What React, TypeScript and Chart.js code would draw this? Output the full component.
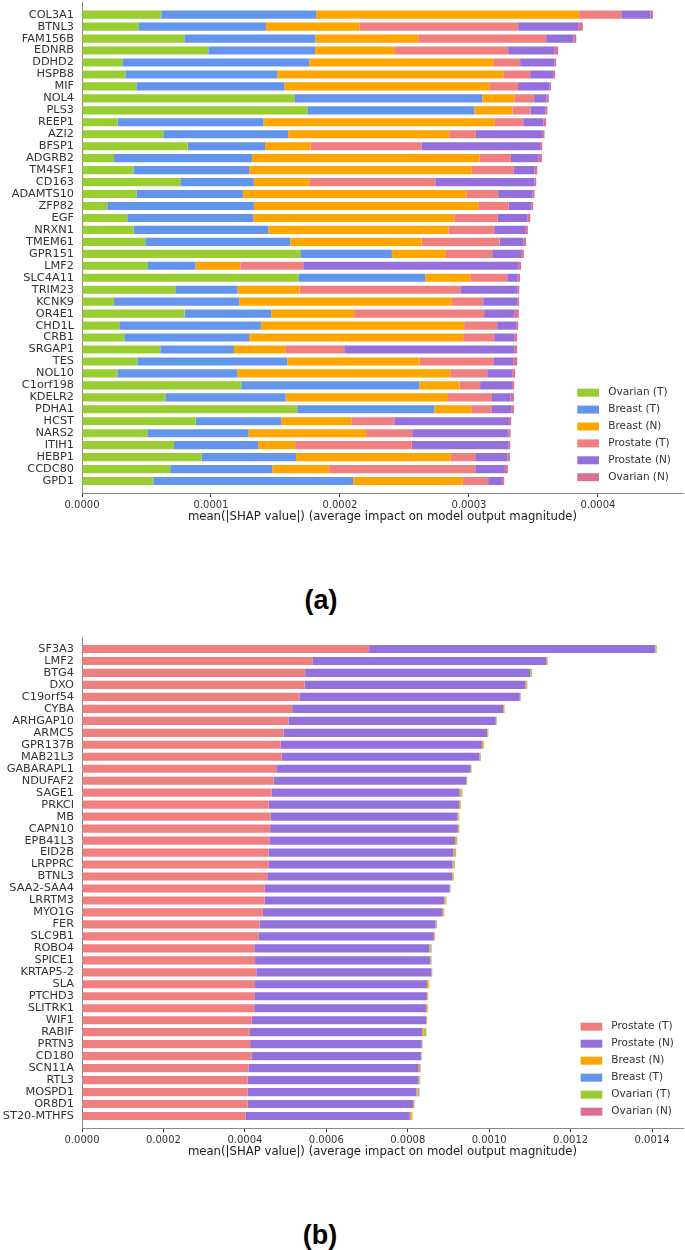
import React, { useEffect, useRef } from 'react';
import { Chart, registerables } from 'chart.js';

Chart.register(...registerables);

const FONT = '"DejaVu Sans", sans-serif';

// ---------- Panel (a) ----------
const genesA = [
  'COL3A1', 'BTNL3', 'FAM156B', 'EDNRB', 'DDHD2', 'HSPB8', 'MIF', 'NOL4', 'PLS3', 'REEP1',
  'AZI2', 'BFSP1', 'ADGRB2', 'TM4SF1', 'CD163', 'ADAMTS10', 'ZFP82', 'EGF', 'NRXN1', 'TMEM61',
  'GPR151', 'LMF2', 'SLC4A11', 'TRIM23', 'KCNK9', 'OR4E1', 'CHD1L', 'CRB1', 'SRGAP1', 'TES',
  'NOL10', 'C1orf198', 'KDELR2', 'PDHA1', 'HCST', 'NARS2', 'ITIH1', 'HEBP1', 'CCDC80', 'GPD1',
];
const ovarianT_A = [
  0.615e-4, 0.442e-4, 0.793e-4, 0.979e-4, 0.312e-4, 0.336e-4, 0.421e-4, 1.646e-4, 1.747e-4, 0.276e-4,
  0.630e-4, 0.819e-4, 0.248e-4, 0.398e-4, 0.762e-4, 0.423e-4, 0.196e-4, 0.351e-4, 0.400e-4, 0.491e-4,
  1.692e-4, 0.506e-4, 1.677e-4, 0.723e-4, 0.248e-4, 0.795e-4, 0.289e-4, 0.328e-4, 0.607e-4, 0.429e-4,
  0.274e-4, 1.235e-4, 0.646e-4, 1.669e-4, 0.881e-4, 0.506e-4, 0.713e-4, 0.927e-4, 0.684e-4, 0.553e-4,
];
const breastT_A = [
  1.200e-4, 0.984e-4, 1.016e-4, 0.829e-4, 1.450e-4, 1.178e-4, 1.147e-4, 1.457e-4, 1.295e-4, 1.132e-4,
  0.969e-4, 0.602e-4, 1.070e-4, 0.899e-4, 0.571e-4, 0.825e-4, 1.137e-4, 0.977e-4, 1.044e-4, 1.124e-4,
  0.711e-4, 0.374e-4, 0.984e-4, 0.483e-4, 0.971e-4, 0.672e-4, 1.098e-4, 0.967e-4, 0.571e-4, 1.163e-4,
  0.930e-4, 1.380e-4, 0.933e-4, 1.062e-4, 0.664e-4, 0.785e-4, 0.653e-4, 0.732e-4, 0.793e-4, 1.550e-4,
];
const breastN_A = [
  2.040e-4, 0.726e-4, 0.798e-4, 0.612e-4, 1.426e-4, 1.752e-4, 1.594e-4, 0.248e-4, 0.295e-4, 1.788e-4,
  1.248e-4, 0.351e-4, 1.764e-4, 1.726e-4, 0.429e-4, 1.731e-4, 1.739e-4, 1.558e-4, 1.398e-4, 1.018e-4,
  0.413e-4, 0.347e-4, 0.349e-4, 0.481e-4, 1.649e-4, 0.643e-4, 1.576e-4, 1.661e-4, 0.398e-4, 1.026e-4,
  1.651e-4, 0.312e-4, 1.259e-4, 0.287e-4, 0.543e-4, 0.912e-4, 0.287e-4, 1.196e-4, 0.440e-4, 0.850e-4,
];
const prostateT_A = [
  0.326e-4, 1.230e-4, 0.992e-4, 0.884e-4, 0.209e-4, 0.209e-4, 0.219e-4, 0.155e-4, 0.140e-4, 0.225e-4,
  0.207e-4, 0.860e-4, 0.243e-4, 0.326e-4, 0.977e-4, 0.248e-4, 0.235e-4, 0.336e-4, 0.354e-4, 0.605e-4,
  0.364e-4, 0.488e-4, 0.287e-4, 1.246e-4, 0.243e-4, 1.008e-4, 0.256e-4, 0.240e-4, 0.457e-4, 0.571e-4,
  0.287e-4, 0.160e-4, 0.341e-4, 0.160e-4, 0.333e-4, 0.357e-4, 0.902e-4, 0.194e-4, 1.132e-4, 0.196e-4,
];
const prostateN_A = [
  0.225e-4, 0.465e-4, 0.212e-4, 0.357e-4, 0.266e-4, 0.178e-4, 0.243e-4, 0.095e-4, 0.116e-4, 0.157e-4,
  0.514e-4, 0.920e-4, 0.212e-4, 0.160e-4, 0.770e-4, 0.266e-4, 0.178e-4, 0.233e-4, 0.240e-4, 0.184e-4,
  0.225e-4, 1.667e-4, 0.078e-4, 0.442e-4, 0.266e-4, 0.233e-4, 0.147e-4, 0.155e-4, 1.318e-4, 0.155e-4,
  0.194e-4, 0.248e-4, 0.142e-4, 0.150e-4, 0.889e-4, 0.747e-4, 0.750e-4, 0.248e-4, 0.230e-4, 0.109e-4,
];
const ovarianN_A = [
  0.021e-4, 0.036e-4, 0.021e-4, 0.031e-4, 0.013e-4, 0.016e-4, 0.013e-4, 0.019e-4, 0.016e-4, 0.021e-4,
  0.018e-4, 0.016e-4, 0.029e-4, 0.021e-4, 0.013e-4, 0.016e-4, 0.013e-4, 0.021e-4, 0.021e-4, 0.021e-4,
  0.021e-4, 0.023e-4, 0.021e-4, 0.016e-4, 0.013e-4, 0.036e-4, 0.016e-4, 0.023e-4, 0.023e-4, 0.031e-4,
  0.023e-4, 0.016e-4, 0.029e-4, 0.021e-4, 0.018e-4, 0.016e-4, 0.016e-4, 0.021e-4, 0.023e-4, 0.016e-4,
];

// ---------- Panel (b) ----------
const genesB = [
  'SF3A3', 'LMF2', 'BTG4', 'DXO', 'C19orf54', 'CYBA', 'ARHGAP10', 'ARMC5', 'GPR137B', 'MAB21L3',
  'GABARAPL1', 'NDUFAF2', 'SAGE1', 'PRKCI', 'MB', 'CAPN10', 'EPB41L3', 'EID2B', 'LRPPRC', 'BTNL3',
  'SAA2-SAA4', 'LRRTM3', 'MYO1G', 'FER', 'SLC9B1', 'ROBO4', 'SPICE1', 'KRTAP5-2', 'SLA', 'PTCHD3',
  'SLITRK1', 'WIF1', 'RABIF', 'PRTN3', 'CD180', 'SCN11A', 'RTL3', 'MOSPD1', 'OR8D1', 'ST20-MTHFS',
];
const prostateT_B = [
  7.05e-4, 5.67e-4, 5.48e-4, 5.47e-4, 5.34e-4, 5.16e-4, 5.07e-4, 4.95e-4, 4.88e-4, 4.90e-4,
  4.77e-4, 4.71e-4, 4.66e-4, 4.58e-4, 4.63e-4, 4.62e-4, 4.60e-4, 4.58e-4, 4.58e-4, 4.55e-4,
  4.49e-4, 4.48e-4, 4.44e-4, 4.36e-4, 4.33e-4, 4.23e-4, 4.25e-4, 4.28e-4, 4.25e-4, 4.23e-4,
  4.23e-4, 4.17e-4, 4.11e-4, 4.13e-4, 4.16e-4, 4.09e-4, 4.07e-4, 4.07e-4, 4.07e-4, 4.02e-4,
];
const prostateN_B = [
  7.02e-4, 5.74e-4, 5.53e-4, 5.42e-4, 5.41e-4, 5.18e-4, 5.09e-4, 5.00e-4, 4.94e-4, 4.86e-4,
  4.77e-4, 4.73e-4, 4.61e-4, 4.68e-4, 4.59e-4, 4.61e-4, 4.56e-4, 4.54e-4, 4.52e-4, 4.54e-4,
  4.54e-4, 4.42e-4, 4.41e-4, 4.32e-4, 4.31e-4, 4.30e-4, 4.30e-4, 4.30e-4, 4.22e-4, 4.24e-4,
  4.22e-4, 4.28e-4, 4.24e-4, 4.21e-4, 4.16e-4, 4.18e-4, 4.19e-4, 4.14e-4, 4.06e-4, 4.03e-4,
];
const breastN_B = [
  0.010e-4, 0.020e-4, 0.015e-4, 0.030e-4, 0.010e-4, 0.030e-4, 0.015e-4, 0.015e-4, 0.030e-4, 0.020e-4,
  0.020e-4, 0.010e-4, 0.040e-4, 0.030e-4, 0.020e-4, 0.025e-4, 0.030e-4, 0.040e-4, 0.020e-4, 0.020e-4,
  0.010e-4, 0.030e-4, 0.030e-4, 0.010e-4, 0.020e-4, 0.020e-4, 0.010e-4, 0.010e-4, 0.040e-4, 0.020e-4,
  0.030e-4, 0.015e-4, 0.040e-4, 0.015e-4, 0.010e-4, 0.030e-4, 0.020e-4, 0.030e-4, 0.020e-4, 0.040e-4,
];
const breastT_B = [
  0.005e-4, 0.003e-4, 0.005e-4, 0.005e-4, 0.005e-4, 0.003e-4, 0.005e-4, 0.003e-4, 0.005e-4, 0.005e-4,
  0.003e-4, 0.003e-4, 0.010e-4, 0.005e-4, 0.010e-4, 0.005e-4, 0.010e-4, 0.010e-4, 0.010e-4, 0.005e-4,
  0.005e-4, 0.005e-4, 0.005e-4, 0.020e-4, 0.003e-4, 0.010e-4, 0.005e-4, 0.005e-4, 0.005e-4, 0.005e-4,
  0.005e-4, 0.005e-4, 0.020e-4, 0.005e-4, 0.005e-4, 0.005e-4, 0.010e-4, 0.030e-4, 0.005e-4, 0.010e-4,
];
const ovarianT_B = [
  0.030e-4, 0.005e-4, 0.020e-4, 0.010e-4, 0.010e-4, 0.005e-4, 0.005e-4, 0.010e-4, 0.010e-4, 0.010e-4,
  0.005e-4, 0.005e-4, 0.015e-4, 0.010e-4, 0.015e-4, 0.005e-4, 0.015e-4, 0.015e-4, 0.025e-4, 0.010e-4,
  0.003e-4, 0.010e-4, 0.010e-4, 0.005e-4, 0.005e-4, 0.025e-4, 0.020e-4, 0.003e-4, 0.010e-4, 0.003e-4,
  0.010e-4, 0.005e-4, 0.040e-4, 0.005e-4, 0.010e-4, 0.010e-4, 0.015e-4, 0.015e-4, 0.010e-4, 0.015e-4,
];
const ovarianN_B = [
  0.004e-4, 0.003e-4, 0.003e-4, 0.004e-4, 0.003e-4, 0.003e-4, 0.004e-4, 0.003e-4, 0.003e-4, 0.004e-4,
  0.003e-4, 0.003e-4, 0.004e-4, 0.003e-4, 0.003e-4, 0.004e-4, 0.003e-4, 0.003e-4, 0.004e-4, 0.003e-4,
  0.003e-4, 0.004e-4, 0.003e-4, 0.003e-4, 0.004e-4, 0.003e-4, 0.003e-4, 0.004e-4, 0.003e-4, 0.003e-4,
  0.004e-4, 0.003e-4, 0.004e-4, 0.003e-4, 0.003e-4, 0.004e-4, 0.003e-4, 0.003e-4, 0.004e-4, 0.003e-4,
];

const xMaxA = 4.66e-4;
const xStepA = 1e-4;
const xMaxB = 14.76e-4;
const xStepB = 2e-4;

const C = {
  ovarianT: '#9ACD32',
  breastT: '#6495ED',
  breastN: '#FFA500',
  prostateT: '#F08080',
  prostateN: '#9370DB',
  ovarianN: '#DB7093',
};

const seriesA = [
  { name: 'Ovarian (T)', values: ovarianT_A, color: C.ovarianT },
  { name: 'Breast (T)', values: breastT_A, color: C.breastT },
  { name: 'Breast (N)', values: breastN_A, color: C.breastN },
  { name: 'Prostate (T)', values: prostateT_A, color: C.prostateT },
  { name: 'Prostate (N)', values: prostateN_A, color: C.prostateN },
  { name: 'Ovarian (N)', values: ovarianN_A, color: C.ovarianN },
];
const seriesB = [
  { name: 'Prostate (T)', values: prostateT_B, color: C.prostateT },
  { name: 'Prostate (N)', values: prostateN_B, color: C.prostateN },
  { name: 'Breast (N)', values: breastN_B, color: C.breastN },
  { name: 'Breast (T)', values: breastT_B, color: C.breastT },
  { name: 'Ovarian (T)', values: ovarianT_B, color: C.ovarianT },
  { name: 'Ovarian (N)', values: ovarianN_B, color: C.ovarianN },
];

function makeLegendPlugin(x0: number, y0: number, dy: number, textX: number) {
  return {
    id: 'shapLegend',
    afterDraw(chart: any) {
      const ctx = chart.ctx;
      ctx.save();
      chart.data.datasets.forEach((ds: any, i: number) => {
        const y = y0 + i * dy;
        ctx.fillStyle = ds.backgroundColor;
        ctx.fillRect(x0, y - 4, 21.7, 8);
        ctx.fillStyle = '#333333';
        ctx.font = `10.5px ${FONT}`;
        ctx.textBaseline = 'middle';
        ctx.textAlign = 'left';
        ctx.fillText(ds.label, textX, y);
      });
      ctx.restore();
    },
  };
}

type PanelProps = {
  top: number;
  height: number;
  padTop: number;
  labels: string[];
  series: { name: string; values: number[]; color: string }[];
  xMax: number;
  step: number;
  legend: { x0: number; y0: number; dy: number; textX: number };
};

function Panel({ top, height, padTop, labels, series, xMax, step, legend }: PanelProps) {
  const ref = useRef<HTMLCanvasElement>(null);
  useEffect(() => {
    if (!ref.current) return;
    const chart = new Chart(ref.current, {
      type: 'bar',
      data: {
        labels: ['', ...labels, ''],
        datasets: series.map((s) => ({
          label: s.name,
          data: [null, ...s.values, null],
          backgroundColor: s.color,
          borderWidth: 0,
          barPercentage: 0.68,
          categoryPercentage: 1,
        })),
      },
      options: {
        indexAxis: 'y',
        responsive: false,
        animation: false,
        devicePixelRatio: 1,
        layout: { padding: { top: padTop, right: 2, left: 0, bottom: 0 } },
        plugins: {
          legend: { display: false },
          tooltip: { enabled: false },
        },
        scales: {
          x: {
            type: 'linear',
            position: 'bottom',
            stacked: true,
            min: 0,
            max: xMax,
            ticks: {
              stepSize: step,
              includeBounds: false,
              autoSkip: false,
              maxRotation: 0,
              padding: 2,
              color: '#333333',
              font: { family: FONT, size: 10 },
              callback: (v: any) => Number(v).toFixed(4),
            },
            grid: {
              display: true,
              drawOnChartArea: false,
              drawTicks: true,
              tickLength: 4,
              tickColor: '#333333',
              tickWidth: 1,
            },
            border: { display: true, color: '#888888', width: 1 },
            title: {
              display: true,
              text: 'mean(|SHAP value|) (average impact on model output magnitude)',
              color: '#222222',
              font: { family: FONT, size: 11.7 },
              padding: { top: 0, bottom: 6 },
            },
            afterFit: (s: any) => {
              s.height = 37;
              s.paddingLeft = 0;
              s.paddingRight = 0;
            },
          },
          y: {
            type: 'category',
            stacked: true,
            offset: false,
            ticks: {
              autoSkip: false,
              padding: 8,
              color: '#333333',
              font: { family: FONT, size: 11.3 },
            },
            grid: { display: false, drawTicks: false },
            border: { display: true, color: '#888888', width: 1 },
            afterFit: (s: any) => {
              s.width = 82;
              s.paddingTop = 0;
              s.paddingBottom = 0;
            },
          },
        },
      } as any,
      plugins: [makeLegendPlugin(legend.x0, legend.y0, legend.dy, legend.textX)],
    });
    return () => chart.destroy();
  }, []);
  return (
    <canvas
      ref={ref}
      width={685}
      height={height}
      style={{ position: 'absolute', left: 0, top, width: 685, height, display: 'block' }}
    />
  );
}

const panelLabel: React.CSSProperties = {
  position: 'absolute',
  width: 100,
  textAlign: 'center',
  fontFamily: '"Liberation Sans", Arial, sans-serif',
  fontWeight: 'bold',
  fontSize: 27,
  lineHeight: '30px',
  color: '#000',
};

export default function App() {
  return (
    <div style={{ position: 'absolute', left: 0, top: 0, width: 685, height: 1250, background: '#fff', overflow: 'hidden' }}>
      <Panel
        top={0}
        height={530}
        padTop={2.7}
        labels={genesA}
        series={seriesA}
        xMax={xMaxA}
        step={xStepA}
        legend={{ x0: 577.3, y0: 392.7, dy: 16.9, textX: 608.3 }}
      />
      <div style={{ ...panelLabel, left: 271, top: 585 }}>(a)</div>
      <Panel
        top={625}
        height={540}
        padTop={12}
        labels={genesB}
        series={seriesB}
        xMax={xMaxB}
        step={xStepB}
        legend={{ x0: 580.6, y0: 401.7, dy: 17, textX: 611.3 }}
      />
      <div style={{ ...panelLabel, left: 270, top: 1220 }}>(b)</div>
    </div>
  );
}
